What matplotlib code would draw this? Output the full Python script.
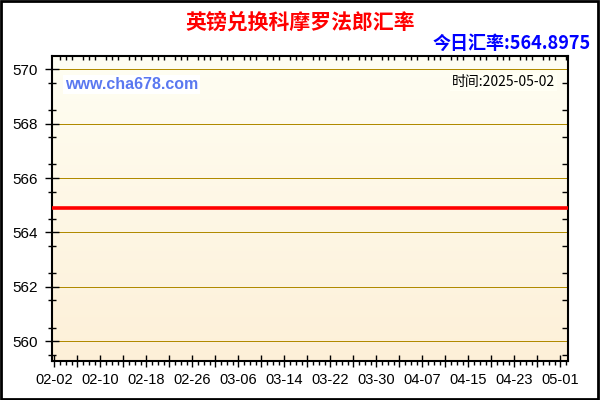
import numpy as np
import pandas as pd
import matplotlib
matplotlib.use("Agg")
import matplotlib.pyplot as plt
import matplotlib.dates as mdates
import matplotlib.lines as mlines
from matplotlib.ticker import FixedLocator, FixedFormatter, MultipleLocator, NullFormatter

title = "英镑兑换科摩罗法郎汇率"
today_rate = "564.8975"
date_str = "2025-05-02"

# rate readings (flat over the whole period)
dates = ["2025-02-01", "2025-02-02", "2025-02-18", "2025-03-06", "2025-03-22",
         "2025-04-07", "2025-04-23", "2025-05-02", "2025-05-03"]
rates = [564.8975, 564.8975, 564.8975, 564.8975, 564.8975,
         564.8975, 564.8975, 564.8975, 564.8975]

x_labels = ["02-02", "02-10", "02-18", "02-26", "03-06", "03-14",
            "03-22", "03-30", "04-07", "04-15", "04-23", "05-01"]
y_ticks = [560, 562, 564, 566, 568, 570]

plt.rcParams['font.family'] = ['Liberation Sans', 'Noto Sans CJK SC', 'DejaVu Sans']
cjk = ['Noto Sans CJK SC', 'DejaVu Sans']

fig = plt.figure(figsize=(6, 4), dpi=100)
fig.patch.set_facecolor("white")
ax = fig.add_axes([51.7 / 600, 1 - 361 / 400, (568.3 - 51.7) / 600, (361 - 55.7) / 400])

x = mdates.date2num(pd.to_datetime(dates))
d0 = mdates.date2num(pd.Timestamp("2025-02-02"))
x0, x1 = d0 - 0.45, d0 + 89.4
y0, y1 = 559.27, 570.5
ax.set_xlim(x0, x1)
ax.set_ylim(y0, y1)

# gradient background
grad = np.linspace(0, 1, 256).reshape(-1, 1)
top = np.array([255, 254, 243]) / 255
bot = np.array([253, 240, 216]) / 255
img = top + (bot - top) * grad[:, :, None]
ax.imshow(img, extent=[x0, x1, y0, y1], aspect="auto", zorder=0)

for yv in y_ticks:
    ax.axhline(yv, color="#B08A00", lw=0.72, zorder=1, antialiased=False)

ax.plot(x, rates, color="#FF0000", lw=2.6, zorder=3)

# ticks
n_major = 2 * len(x_labels) - 1
ax.xaxis.set_major_locator(FixedLocator([d0 + 4 * i for i in range(n_major)]))
ax.xaxis.set_major_formatter(FixedFormatter(
    [x_labels[i // 2] if i % 2 == 0 else "" for i in range(n_major)]))
ax.xaxis.set_minor_locator(MultipleLocator(1))
ax.xaxis.set_minor_formatter(NullFormatter())

ax.set_yticks(y_ticks)
ax.set_yticklabels([str(v) for v in y_ticks])
ax.yaxis.set_minor_locator(FixedLocator([559.5 + i for i in range(11)]))

ax.tick_params(axis="x", which="major", direction="inout", length=9, width=1,
               labelsize=10.5, pad=4, top=False)
ax.tick_params(axis="x", which="minor", direction="out", length=3, width=1, top=True)
ax.tick_params(axis="y", which="major", direction="inout", length=10, width=1,
               labelsize=11, pad=5, right=False)
ax.tick_params(axis="y", which="minor", direction="inout", length=6, width=1, right=True)
for t in ax.xaxis.get_minor_ticks():
    t.tick2line.set_marker(mlines.TICKDOWN)
    t.tick2line.set_markersize(3)
for t in ax.yaxis.get_minor_ticks():
    t.tick2line.set_marker(mlines.TICKLEFT)
    t.tick2line.set_markersize(4)

for s in ax.spines.values():
    s.set_linewidth(1.5)
    s.set_color("black")

# texts
fig.text(0.5, 1 - 22 / 400, title, color="#FF0000", fontsize=15, fontweight="bold",
         ha="center", va="center", family=cjk)
fig.text(591 / 600, 1 - 43 / 400, "今日汇率:" + today_rate, color="#0000FF", fontsize=13,
         fontweight="bold", ha="right", va="center", family=cjk)
ax.text(0.025, 0.907, "www.cha678.com", transform=ax.transAxes, color="#5A78F0",
        fontsize=11.5, fontweight="bold", ha="left", va="center",
        bbox=dict(facecolor="white", edgecolor="none", pad=1.5), zorder=4)
ax.text(0.975, 0.914, "时间:" + date_str, transform=ax.transAxes, color="black",
        fontsize=10, ha="right", va="center", family=cjk,
        bbox=dict(facecolor="#FFFFF4", edgecolor="none", pad=1.5), zorder=4)

fig.add_artist(plt.Rectangle((0.002, 0.003), 0.994, 0.994, transform=fig.transFigure,
                             fill=False, edgecolor="black", lw=2))

fig.savefig("out.png", dpi=100)
